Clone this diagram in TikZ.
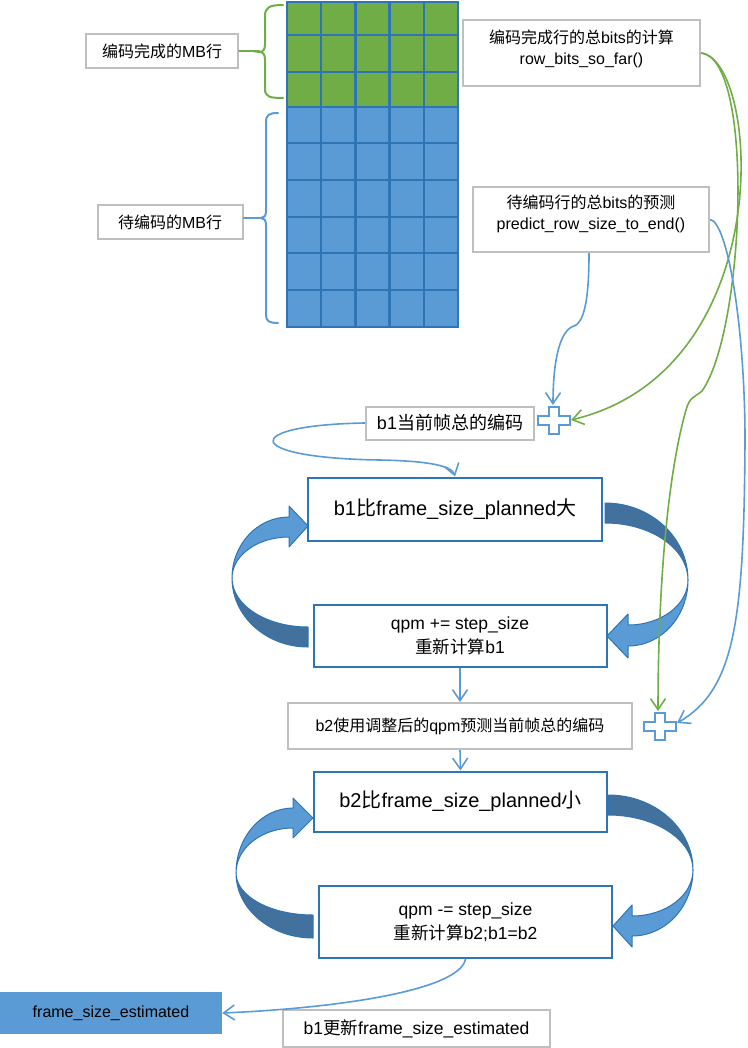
\documentclass[tikz,border=0pt]{standalone}
\usepackage{fontspec}
\setmainfont{Liberation Sans}
\newfontfamily\zhfont{Noto Sans CJK SC}
\newcommand\zh[1]{{\zhfont #1}}
\usetikzlibrary{arrows.meta}
\definecolor{mbgreen}{HTML}{70AD47}
\definecolor{mbblue}{HTML}{5B9BD5}
\definecolor{darkblue}{HTML}{2E75B6}
\definecolor{backblue}{HTML}{41719C}
\definecolor{boxgray}{HTML}{BFBFBF}
\begin{document}
\begin{tikzpicture}[x=1pt,y=-1pt,
  gbox/.style={draw=boxgray, line width=2pt, fill=white, inner sep=0pt, text=black},
  bbox/.style={draw=darkblue, line width=2pt, fill=white, inner sep=0pt, text=black},
  fs16/.style={font=\fontsize{16}{21}\selectfont},
  fs17/.style={font=\fontsize{17.5}{24}\selectfont},
  fs18/.style={font=\fontsize{18}{22}\selectfont},
  fs20/.style={font=\fontsize{20}{24}\selectfont},
  conn/.style={line width=1.6pt, -{Straight Barb[length=11pt,width=15pt]}},
  gbrace/.style={draw=mbgreen, line width=2pt, line cap=round},
  bbrace/.style={draw=mbblue, line width=2pt, line cap=round},
  backband/.style={fill=backblue, draw=darkblue, line width=1pt, line join=round},
  frontband/.style={fill=mbblue, draw=darkblue, line width=1pt, line join=round},
  plusshape/.style={draw=mbblue, line width=2pt, fill=white}
]
\useasboundingbox (0,0) rectangle (747,1048);

% ---- MB grid ----
\fill[mbgreen] (287,2) rectangle (458,107);
\fill[mbblue] (287,107) rectangle (458,327);
\foreach \xx in {287,321.2,355.4,389.6,423.8,458}
  \draw[darkblue, line width=2.4pt] (\xx,2) -- (\xx,327);
\foreach \yy in {2,35,72,107,143,180,217,253,290,327}
  \draw[darkblue, line width=2.4pt] (286,\yy) -- (459,\yy);

% ---- labels and braces ----
\node[gbox, fs16, minimum width=152pt, minimum height=34pt] (lab1) at (162,51) {\zh{编码完成的}MB\zh{行}};
\node[gbox, fs16, minimum width=145pt, minimum height=34pt] (lab2) at (170,222) {\zh{待编码的}MB\zh{行}};
\draw[gbrace] (283,5) .. controls (270,5) and (265,7) .. (265,16) -- (265,44)
  .. controls (265,50) and (263,52) .. (259,52) .. controls (263,52) and (265,54) .. (265,60)
  -- (265,89) .. controls (265,97) and (270,98) .. (283,98);
\draw[gbrace] (lab1.east) -- (259,51);
\draw[bbrace] (278,113) .. controls (269,113) and (266,115) .. (266,122) -- (266,211)
  .. controls (266,216) and (264,218) .. (261,218) .. controls (264,218) and (266,220) .. (266,225)
  -- (266,315) .. controls (266,321) and (269,323) .. (278,323);
\draw[bbrace] ([yshift=4pt]lab2.east) -- (261,218);

% ---- right info boxes ----
\node[gbox, minimum width=237pt, minimum height=66pt] (rb1) at (581.5,53) {};
\node[fs16, align=center, inner sep=0pt] (rb1t) at (581.5,48.5) {\zh{编码完成行的总}bits\zh{的计算}\\row\_bits\_so\_far()};
\node[gbox, minimum width=236pt, minimum height=65pt] (rb2) at (591,219.5) {};
\node[fs16, align=center, inner sep=0pt] (rb2t) at (591,214) {\zh{待编码行的总}bits\zh{的预测}\\predict\_row\_size\_to\_end()};

% ---- flow boxes ----
\node[gbox, fs18, minimum width=168pt, minimum height=33pt] (cur) at (450,423) {b1\zh{当前帧总的编码}};
\node[bbox, fs20, minimum width=294pt, minimum height=63pt] (bb1) at (455,509) {b1\zh{比}frame\_size\_planned\zh{大}};
\node[bbox, fs17, align=center, minimum width=293pt, minimum height=62pt] (qb1) at (460,636) {qpm += step\_size\\\zh{重新计算}b1};
\node[gbox, fs16, minimum width=344pt, minimum height=46pt] (b2box) at (460,726) {b2\zh{使用调整后的}qpm\zh{预测当前帧总的编码}};
\node[bbox, fs20, minimum width=293pt, minimum height=60pt] (bb2) at (460.5,801.5) {b2\zh{比}frame\_size\_planned\zh{小}};
\node[bbox, fs17, align=center, minimum width=293pt, minimum height=72pt] (qb2) at (465.5,922) {qpm -= step\_size\\\zh{重新计算}b2;b1=b2};
\node[fill=mbblue, fs16, text=black, inner sep=0pt, minimum width=222pt, minimum height=42pt] (fse) at (111,1013) {frame\_size\_estimated};
\node[gbox, fs17, minimum width=267pt, minimum height=37pt] (upd) at (416.5,1028.5) {b1\zh{更新}frame\_size\_estimated};

% ---- plus signs ----
\coordinate (p1) at (554,420);
\coordinate (p2) at (659.5,726);
\foreach \pc in {p1,p2}{
  \begin{scope}[shift={(\pc)}]
    \draw[plusshape] (-16,-4.5) -- (-5,-4.5) -- (-5,-13.5) -- (5,-13.5) -- (5,-4.5) -- (16,-4.5)
      -- (16,4.5) -- (5,4.5) -- (5,13.5) -- (-5,13.5) -- (-5,4.5) -- (-16,4.5) -- cycle;
  \end{scope}
}
\coordinate (p1t) at (553,405);
\coordinate (p1r) at (571,420);
\coordinate (p2t) at (658,711);
\coordinate (p2r) at (677,723);

% ---- loop 1 curved block arrows ----
\path[backband] (232,578) arc[start angle=180, end angle=90, x radius=76, y radius=69]
  -- (308,627) arc[start angle=90, end angle=180, x radius=76, y radius=49] -- cycle;
\path[frontband] (232,578) arc[start angle=180, end angle=270, x radius=57, y radius=61]
  -- (289,506) -- (308,526) -- (289,547) -- (289,537)
  arc[start angle=270, end angle=180, x radius=57, y radius=41] -- cycle;
\path[backband] (605,503) arc[start angle=270, end angle=360, x radius=83, y radius=77]
  arc[start angle=0, end angle=-90, x radius=83, y radius=57] -- cycle;
\path[frontband] (688,580) arc[start angle=0, end angle=90, x radius=60, y radius=66]
  -- (628,658) -- (607,636) -- (628,614) -- (628,625)
  arc[start angle=90, end angle=0, x radius=60, y radius=45] -- cycle;

% ---- loop 2 curved block arrows ----
\path[backband] (236,873) arc[start angle=180, end angle=90, x radius=77, y radius=65]
  -- (313,915) arc[start angle=90, end angle=180, x radius=77, y radius=42] -- cycle;
\path[frontband] (236,873) arc[start angle=180, end angle=270, x radius=57, y radius=65]
  -- (293,798) -- (313,818) -- (293,838) -- (293,828)
  arc[start angle=270, end angle=180, x radius=57, y radius=45] -- cycle;
\path[backband] (608,795) arc[start angle=270, end angle=360, x radius=85, y radius=75]
  arc[start angle=0, end angle=-90, x radius=85, y radius=55] -- cycle;
\path[frontband] (693,870) arc[start angle=0, end angle=90, x radius=61, y radius=66]
  -- (632,947) -- (613,926) -- (632,905) -- (632,916)
  arc[start angle=90, end angle=0, x radius=61, y radius=46] -- cycle;

% ---- connectors ----
\draw[conn, mbblue] ([xshift=-2pt]rb2.south) .. controls (589,290) and (586,322) .. (574,326)
  .. controls (560,330) and (553,360) .. (p1t);
\draw[conn, mbgreen] (rb1.east) .. controls (760,60) and (780,370) .. (p1r);
\draw[conn, mbgreen] (rb1.east) .. controls (755,58) and (745,330) .. (702,391)
  .. controls (694,398) and (690,396) .. (686,410) .. controls (666,480) and (658,600) .. (p2t);
\draw[conn, mbblue] (rb2.east) .. controls (728,222) and (745,330) .. (745,440)
  .. controls (744,620) and (735,690) .. (p2r);
\draw[conn, mbblue] (cur.west) .. controls (240,425) and (240,458) .. (380,460)
  .. controls (430,461) and (452,466) .. (bb1.north);
\draw[conn, mbblue] (qb1.south) -- (b2box.north);
\draw[conn, mbblue] (b2box.south) -- (bb2.north);
\draw[conn, mbblue] (qb2.south) .. controls (460,990) and (340,1008) .. (fse.east);
\end{tikzpicture}
\end{document}
